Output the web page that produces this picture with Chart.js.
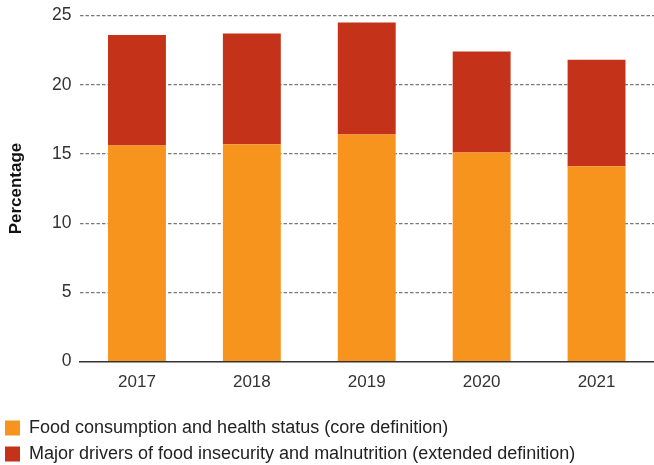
<!DOCTYPE html>
<html>
<head>
<meta charset="utf-8">
<script src="https://cdn.jsdelivr.net/npm/chart.js@4"></script>
<style>
  html, body { margin: 0; padding: 0; background: #fff; }
  #wrap { width: 654px; height: 465px; }
</style>
</head>
<body>
<div id="wrap"><canvas id="food-chart"></canvas></div>
<script>
const years = ['2017', '2018', '2019', '2020', '2021']
const coreValues = [15.6, 15.7, 16.4, 15.1, 14.1]
const extendedValues = [8.0, 8.0, 8.1, 7.3, 7.7]
const yTicks = [0, 5, 10, 15, 20, 25]

const orange = '#f7941d'
const red = '#c4321a'
const fontFamily = "'Liberation Sans', Arial, sans-serif"

var ctx = document.getElementById('food-chart').getContext('2d');
new Chart(ctx, {
  type: 'bar',
  data: {
    labels: years,
    datasets: [
      {
        label: 'Food consumption and health status (core definition)',
        data: coreValues,
        backgroundColor: orange,
        borderWidth: 0,
        barPercentage: 0.504,
        categoryPercentage: 1
      },
      {
        label: 'Major drivers of food insecurity and malnutrition (extended definition)',
        data: extendedValues,
        backgroundColor: red,
        borderWidth: 0,
        barPercentage: 0.504,
        categoryPercentage: 1
      }
    ]
  },
  options: {
    responsive: true,
    maintainAspectRatio: false,
    animation: false,
    layout: { padding: { left: -3, top: 15.5, right: 0, bottom: -8 } },
    scales: {
      x: {
        stacked: true,
        grid: { display: false, drawTicks: false },
        border: { display: true, color: '#333', width: 1.5 },
        ticks: { color: '#333', padding: 11, font: { family: fontFamily, size: 17 } },
        afterFit: function(scale) { scale.height = 49.5 }
      },
      y: {
        stacked: true,
        min: 0,
        max: 25,
        afterBuildTicks: function(scale) {
          scale.ticks = yTicks.map(v => ({ value: v }))
        },
        ticks: { color: '#333', padding: 8, font: { family: fontFamily, size: 17.5 } },
        grid: {
          drawTicks: false,
          color: function(c) { return c.tick.value === 0 ? 'rgba(0,0,0,0)' : '#7a7a7a' },
          lineWidth: 1.2
        },
        border: { display: false, dash: [3.5, 2] },
        title: {
          display: true,
          text: 'Percentage',
          color: '#111',
          padding: { top: 9, bottom: 0 },
          font: { family: fontFamily, size: 17, weight: 'bold' }
        },
        afterFit: function(scale) {
          scale.width = 82.5
          scale.paddingTop = 0
          scale.paddingBottom = 0
        }
      }
    },
    plugins: {
      legend: {
        display: true,
        position: 'bottom',
        align: 'start',
        labels: {
          boxWidth: 15,
          boxHeight: 15,
          padding: 8,
          color: '#222',
          font: { family: fontFamily, size: 18 }
        }
      },
      tooltip: { enabled: false }
    }
  }
});
</script>
</body>
</html>
